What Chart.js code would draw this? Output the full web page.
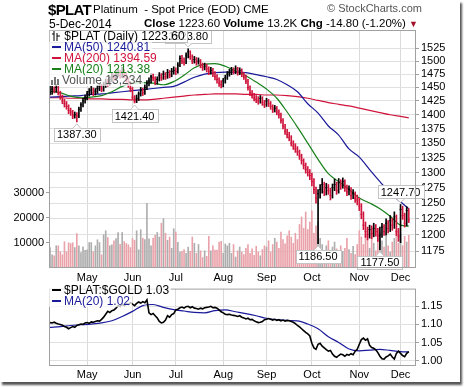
<!DOCTYPE html>
<html>
<head>
<meta charset="utf-8">
<script src="https://cdn.jsdelivr.net/npm/chart.js@4.4.1/dist/chart.umd.min.js"></script>
<style>
body { margin: 0; background: #fff; font-family: "Liberation Sans", Arial, sans-serif; }
#wrap { position: relative; width: 464px; height: 387px; overflow: hidden; }
#frame { position: absolute; left: 0; top: 0; width: 460px; height: 382px; background: #fff; box-shadow: 2px 3px 2px #555; }
canvas { position: absolute; left: 0; }
.t { position: absolute; white-space: nowrap; color: #000; }
.leg { position: absolute; white-space: nowrap; font-size: 12px; line-height: 11px; background: rgba(255,255,255,0.72); padding: 0 2px 0 2px; }
.dash { display: inline-block; width: 9px; height: 2px; vertical-align: middle; margin: 0 3px 2px 1px; }
</style>
</head>
<body>
<div id="wrap">
  <div id="frame"></div>
  <canvas id="main" width="464" height="285" style="top:0"></canvas>
  <canvas id="ratio" width="464" height="100" style="top:280px"></canvas>

  <div class="t" style="left:48px;top:1px;font-size:15px;font-weight:bold;letter-spacing:-0.7px">$PLAT</div>
  <div class="t" style="left:93px;top:3px;font-size:11.5px">Platinum&nbsp; - Spot Price (EOD) CME</div>
  <div class="t" style="left:327px;top:2px;font-size:11px;color:#555">&copy; StockCharts.com</div>
  <div class="t" style="left:49px;top:17px;font-size:12px">5-Dec-2014</div>
  <div class="t" style="right:46px;top:17px;font-size:11.5px"><b>Close</b> 1223.60 <b>Volume</b> 13.2K <b>Chg</b> -14.80 (-1.20%) <span style="color:#a0102a;font-size:9px">&#9660;</span></div>

  <div class="leg" style="left:49px;top:30px;border:1px solid #bbb;line-height:11px"><svg width="9" height="10" style="vertical-align:-1px"><path d="M2 0v10M0 3h2M5 2v8M5 5h3" stroke="#000" stroke-width="1"/></svg> $PLAT (Daily) 1223.60</div>
  <div class="leg" style="left:49px;top:42px;color:#1a1a9a"><span class="dash" style="background:#1a1a9a"></span>MA(50) 1240.81</div>
  <div class="leg" style="left:49px;top:53px;color:#d0143c"><span class="dash" style="background:#d0143c"></span>MA(200) 1394.59</div>
  <div class="leg" style="left:49px;top:64px;color:#17801a"><span class="dash" style="background:#17801a"></span>MA(20) 1213.38</div>
  <div class="leg" style="left:49px;top:75px;color:#555"><svg width="10" height="9" style="vertical-align:-1px;margin-right:1px"><path d="M1 9V4M4 9V1M7 9V3" stroke="#777" stroke-width="2"/></svg>Volume 13,234</div>

  <div class="leg" style="left:49px;top:285px;color:#000"><span class="dash" style="background:#000"></span>$PLAT:$GOLD 1.03</div>
  <div class="leg" style="left:49px;top:296px;color:#1a1a9a"><span class="dash" style="background:#1a1a9a"></span>MA(20) 1.02</div>
</div>

<script>
// daily bars, 7-Apr-2014 .. 5-Dec-2014 (weekdays)
const highs = [
  1452, 1452, 1451, 1456, 1452, 1443, 1436, 1428, 1424, 1418,
  1412, 1408, 1405, 1404, 1414, 1422, 1430, 1436, 1443, 1448,
  1452, 1449, 1448, 1454, 1458, 1456, 1460, 1466, 1465, 1470,
  1477, 1475, 1481, 1485, 1482, 1488, 1484, 1478, 1468, 1458,
  1450, 1435, 1436, 1442, 1450, 1449, 1455, 1463, 1468, 1476,
  1475, 1470, 1470, 1478, 1476, 1481, 1478, 1484, 1482, 1486,
  1489, 1487, 1497, 1510, 1511, 1506, 1516, 1523.8, 1520, 1512,
  1509, 1507, 1506, 1503, 1496, 1496, 1494, 1489, 1488, 1486,
  1480, 1474, 1468, 1463, 1467, 1473, 1480, 1484, 1488, 1487,
  1491, 1488, 1487, 1485, 1478, 1473, 1465, 1453, 1444, 1439,
  1435, 1433, 1435, 1433, 1426, 1430, 1428, 1424, 1418, 1417,
  1415, 1409, 1403, 1393, 1383, 1374, 1369, 1363, 1354, 1349,
  1344, 1338, 1331, 1323, 1316, 1310, 1305, 1299, 1290, 1276,
  1272, 1280, 1290, 1284, 1282, 1280, 1274, 1281, 1289, 1284,
  1290, 1288, 1291, 1288, 1279, 1278, 1275, 1272, 1268, 1263,
  1258, 1249, 1236, 1220, 1212, 1215, 1214, 1218, 1216, 1210,
  1212, 1218, 1216, 1225, 1222, 1230, 1226, 1236, 1231, 1210,
  1247.7, 1245, 1234, 1244, 1241
];
const lows = [
  1436, 1437, 1440, 1441, 1436, 1428, 1420, 1414, 1410, 1402,
  1399, 1393, 1394, 1387.3, 1395, 1406, 1414, 1421, 1427, 1434,
  1437, 1435, 1436, 1439, 1444, 1442, 1443, 1450, 1452, 1454,
  1461, 1463, 1464, 1470, 1467, 1468, 1468, 1460, 1450, 1442,
  1428, 1421.4, 1422, 1426, 1434, 1435, 1437, 1446, 1453, 1458,
  1462, 1455, 1456, 1462, 1463, 1465, 1465, 1467, 1468, 1470,
  1475, 1474, 1477, 1489, 1495, 1492, 1495, 1506, 1503, 1495,
  1496, 1492, 1494, 1487, 1482, 1483, 1479, 1474, 1475, 1470,
  1464, 1458, 1452, 1449, 1451, 1458, 1465, 1471, 1474, 1475,
  1476, 1473, 1474, 1470, 1465, 1457, 1445, 1435, 1430, 1425,
  1422, 1419, 1421, 1417, 1413, 1415, 1415, 1410, 1404, 1405,
  1400, 1394, 1385, 1375, 1365, 1359, 1354, 1345, 1339, 1334,
  1329, 1322, 1314, 1306, 1299, 1294, 1288, 1278, 1265, 1250,
  1186.5, 1258, 1266, 1262, 1263, 1264, 1255, 1258, 1270, 1264,
  1266, 1272, 1274, 1269, 1262, 1263, 1256, 1257, 1251, 1247,
  1238, 1225, 1208, 1196, 1192, 1195, 1194, 1197, 1198, 1190,
  1177.5, 1196, 1199, 1200, 1203, 1205, 1207, 1210, 1199, 1190,
  1188, 1224, 1212, 1214, 1219
];
const closes = [
  1440, 1447, 1445, 1450, 1440, 1432, 1425, 1420, 1415, 1408,
  1405, 1398, 1400, 1398, 1410, 1418, 1425, 1430, 1438, 1442,
  1445, 1440, 1443, 1448, 1452, 1447, 1455, 1460, 1458, 1465,
  1470, 1468, 1475, 1478, 1472, 1480, 1475, 1465, 1455, 1448,
  1432, 1425, 1430, 1438, 1445, 1440, 1450, 1458, 1462, 1470,
  1468, 1460, 1465, 1472, 1468, 1475, 1470, 1478, 1473, 1480,
  1482, 1480, 1492, 1505, 1500, 1498, 1510, 1518, 1508, 1500,
  1503, 1498, 1500, 1492, 1488, 1490, 1485, 1480, 1482, 1476,
  1470, 1465, 1458, 1455, 1462, 1468, 1475, 1478, 1482, 1480,
  1485, 1478, 1482, 1475, 1470, 1462, 1450, 1440, 1435, 1430,
  1428, 1425, 1430, 1422, 1418, 1425, 1420, 1415, 1410, 1412,
  1405, 1400, 1390, 1380, 1370, 1365, 1360, 1350, 1345, 1340,
  1335, 1328, 1320, 1312, 1305, 1300, 1295, 1285, 1272, 1258,
  1265, 1272, 1280, 1268, 1275, 1270, 1262, 1275, 1280, 1270,
  1283, 1278, 1285, 1275, 1268, 1272, 1262, 1265, 1258, 1255,
  1245, 1232, 1215, 1205, 1200, 1208, 1202, 1210, 1205, 1198,
  1200, 1212, 1205, 1218, 1210, 1222, 1215, 1228, 1205, 1198,
  1240, 1230, 1218, 1238, 1223.6
];
const volumes = [
  8300, 5400, 5000, 9000, 9000, 6600, 5400, 10600, 6600, 10200,
  9900, 10200, 8300, 13900, 9000, 6300, 8600, 7200, 7400, 10300,
  10300, 6600, 9000, 11400, 10300, 5400, 13400, 15000, 12300, 9000,
  9400, 11000, 11900, 14300, 9600, 14300, 10700, 9900, 9400, 8300,
  11900, 11200, 15000, 7400, 15400, 12000, 11500, 25900,
  11800, 9000, 12000, 13200, 14300, 12500, 18000, 19800, 14000, 11200, 12500, 8000, 15800, 14500, 10400,
  6500, 6800, 7500, 6000, 8500, 6800, 12500, 10000, 6000, 9500,
  7000, 4300, 7000, 4800, 12800, 7000, 9000, 7300, 7300, 10500,
  10800, 6000, 9700, 9000, 10000,
  6000, 9500, 4500, 7000, 8500, 6500, 5500, 8000, 9500, 6000,
  7800, 5200, 8800, 6500, 5000, 7500, 9000,
  8500, 11000, 6500, 9500, 12000, 10500, 8000, 14500, 11500, 9800,
  13000, 15000, 12500, 10000, 14000, 11500, 17500, 20500, 16000, 22500,
  15500, 18500,
  23000, 14000, 17000, 18500, 12000, 9500, 7000, 9000, 11000, 6500,
  8500, 10500, 7800, 5500, 9000, 6800, 8000, 12000, 7500, 6000,
  8800, 5500, 9500,
  15000, 12500, 9500, 13800, 11000, 8000, 15500, 10000, 7000, 12000,
  14500, 11000, 8500, 13500, 9000, 6500, 10500, 12000, 14800, 10000,
  13500, 9000, 12800, 10500, 13234
];

// moving averages every 5th bar
const maIdx = [0, 5, 10, 15, 20, 25, 30, 35, 40, 45, 50, 55, 60, 65, 70, 75, 80, 85, 90, 95,
  100, 105, 110, 115, 120, 125, 130, 135, 140, 145, 150, 155, 160, 165, 170, 174];
const ma50 = [1432, 1433, 1434, 1435, 1437, 1438, 1440, 1442, 1444, 1446, 1448, 1450, 1452, 1460, 1469, 1475, 1478, 1479, 1479, 1478,
  1474, 1470, 1465, 1455, 1442, 1420, 1403, 1380, 1364, 1340, 1326, 1305, 1285, 1266, 1252, 1240.81];
const ma200 = [1431, 1431, 1430, 1430, 1429, 1429, 1428, 1428, 1427, 1427, 1428, 1430, 1432, 1434, 1436, 1437, 1438, 1438, 1438, 1437,
  1437, 1436, 1436, 1435, 1433, 1430, 1426, 1422, 1419, 1416, 1412, 1408, 1404, 1400, 1397, 1394.59];
const ma20 = [1443, 1440, 1434, 1431, 1432, 1435, 1442, 1452, 1458, 1459, 1458, 1455, 1461, 1473, 1487, 1494, 1495, 1490, 1481, 1472,
  1460, 1447, 1430, 1405, 1378, 1350, 1322, 1298, 1285, 1272, 1258, 1250, 1241, 1229, 1215, 1213.38];

// $PLAT:$GOLD ratio
const ratio = [
  1.105, 1.104, 1.106, 1.103, 1.101, 1.100, 1.098, 1.094, 1.092, 1.088, 1.091, 1.094, 1.092, 1.097, 1.099, 1.101, 1.100, 1.104,
  1.105, 1.103, 1.107, 1.106, 1.108, 1.110, 1.109, 1.114, 1.120, 1.128, 1.136, 1.133, 1.138, 1.140, 1.145, 1.152, 1.150, 1.156, 1.152, 1.158, 1.155, 1.160,
  1.156, 1.152, 1.158, 1.162, 1.159, 1.163, 1.160, 1.168,
  1.132, 1.127, 1.130, 1.124, 1.118, 1.108, 1.104, 1.106, 1.112, 1.124, 1.120, 1.127, 1.130,
  1.140, 1.142, 1.146, 1.148, 1.145, 1.149, 1.150, 1.146, 1.149, 1.145, 1.144, 1.142, 1.145, 1.143, 1.146, 1.147, 1.148, 1.150, 1.146, 1.147, 1.145, 1.140, 1.135,
  1.132, 1.128, 1.127, 1.128, 1.126, 1.125, 1.124, 1.122, 1.124, 1.120, 1.118, 1.115, 1.117, 1.113, 1.114, 1.110, 1.107, 1.105, 1.106, 1.108, 1.113,
  1.114, 1.116, 1.114, 1.112, 1.114, 1.111, 1.113, 1.110, 1.112, 1.109, 1.111, 1.110, 1.108, 1.106, 1.102, 1.097, 1.093, 1.088, 1.083, 1.078, 1.074, 1.068,
  1.048, 1.035, 1.031, 1.045, 1.048, 1.040, 1.035, 1.030, 1.026, 1.028, 1.018, 1.012, 1.009, 1.014, 1.018, 1.016, 1.012, 1.017, 1.015, 1.019, 1.016, 1.026, 1.031,
  1.045, 1.058, 1.062, 1.056, 1.060, 1.042, 1.036, 1.034, 1.030, 1.022, 1.012, 1.005, 1.004, 1.010, 1.013, 1.018, 1.010, 1.004, 1.020, 1.026,
  1.020, 1.014, 1.011, 1.020, 1.025
];
const ratioMa = [1.092, 1.094, 1.097, 1.099, 1.101, 1.104, 1.110, 1.122, 1.136, 1.152, 1.155, 1.147, 1.141, 1.137, 1.133, 1.132, 1.138, 1.140, 1.135, 1.130,
  1.124, 1.117, 1.113, 1.111, 1.110, 1.101, 1.088, 1.066, 1.050, 1.032, 1.027, 1.029, 1.031, 1.028, 1.025, 1.024];

const priceTicks = [1175, 1200, 1225, 1250, 1275, 1300, 1325, 1350, 1375, 1400, 1425, 1450, 1475, 1500, 1525];
const volTicks = [10000, 20000, 30000];
const ratioTicks = [1.00, 1.05, 1.10, 1.15];
const monthNames = ['Jan', 'Feb', 'Mar', 'Apr', 'May', 'Jun', 'Jul', 'Aug', 'Sep', 'Oct', 'Nov', 'Dec'];

// price labels in boxes: [bar index, 'low' or 'high']
const notes = [[67, 'high'], [13, 'low'], [41, 'low'], [130, 'low'], [160, 'low'], [170, 'high']];

const N = closes.length;
const SLOTS = N + 3;

// trading days
const dates = [];
for (let d = new Date(2014, 3, 7); dates.length < N; d.setDate(d.getDate() + 1)) {
    if (d.getDay() !== 0 && d.getDay() !== 6) dates.push(new Date(d));
}
const labels = [];
for (let i = 0; i < SLOTS; i++) labels.push(i < N ? dates[i].toDateString() : 'pad' + i);

const monthAt = {};
for (let i = 1; i < N; i++) {
    if (dates[i].getMonth() !== dates[i - 1].getMonth()) monthAt[i] = monthNames[dates[i].getMonth()];
}

const RED = '#d0143c';
const up = closes.map((c, i) => i === 0 || c >= closes[i - 1]);
const barColors = up.map(u => u ? '#000000' : RED);
const volColors = up.map(u => u ? '#adadad' : '#eaa2aa');

function sparse(values) {
    const arr = new Array(SLOTS).fill(null);
    maIdx.forEach((ix, k) => { arr[ix] = values[k]; });
    return arr;
}

const frame = {
    id: 'frame',
    afterDraw(chart) {
        const a = chart.chartArea, c = chart.ctx;
        c.save();
        c.strokeStyle = '#a0a0a0';
        c.lineWidth = 1;
        c.strokeRect(a.left + 0.5, a.top + 0.5, a.right - a.left - 1, a.bottom - a.top - 1);
        c.restore();
    }
};

const boxes = {
    id: 'boxes',
    afterDatasetsDraw(chart) {
        const c = chart.ctx;
        const xs = chart.scales.x, ys = chart.scales.y;
        c.save();
        c.font = '11px "Liberation Sans", Arial, sans-serif';
        c.textAlign = 'center';
        c.textBaseline = 'middle';
        for (const [i, kind] of notes) {
            const v = kind === 'high' ? highs[i] : lows[i];
            const txt = v.toFixed(2);
            const px = xs.getPixelForValue(i);
            const py = ys.getPixelForValue(v);
            const w = c.measureText(txt).width + 6, h = 13;
            const top = kind === 'high' ? py - 6 - h : py + 6;
            const tipY = kind === 'high' ? py - 2 : py + 2;
            const baseY = kind === 'high' ? top + h : top;
            c.fillStyle = '#fff';
            c.strokeStyle = '#c4c4c4';
            c.lineWidth = 1;
            c.fillRect(Math.round(px - w / 2) + 0.5, Math.round(top) + 0.5, Math.round(w), h);
            c.strokeRect(Math.round(px - w / 2) + 0.5, Math.round(top) + 0.5, Math.round(w), h);
            c.beginPath();
            c.moveTo(px - 4, baseY + 0.5);
            c.lineTo(px, tipY);
            c.lineTo(px + 4, baseY + 0.5);
            c.fillStyle = '#fff';
            c.fill();
            c.stroke();
            c.fillStyle = '#000';
            c.fillText(txt, px, top + h / 2 + 1);
        }
        c.restore();
    }
};

const font11 = { family: '"Liberation Sans", Arial, sans-serif', size: 11 };

function monthAxis(height, pad) {
    return {
        type: 'category',
        offset: true,
        afterFit: s => { s.height = height; },
        border: { display: false },
        grid: {
            offset: false,
            drawTicks: false,
            color: c => (c.tick && monthAt[c.index]) ? '#dadada' : 'rgba(0,0,0,0)'
        },
        ticks: {
            autoSkip: false,
            maxRotation: 0,
            padding: pad,
            font: font11,
            color: '#000',
            callback: (v, i) => monthAt[i] || ''
        }
    };
}

new Chart(document.getElementById('main'), {
    data: {
        labels: labels,
        datasets: [
            {
                type: 'line', data: closes, yAxisID: 'y', order: 0,
                showLine: false, pointStyle: 'line', pointRadius: 1, pointBorderWidth: 1,
                pointBorderColor: barColors
            },
            {
                type: 'bar', data: closes.map((c, i) => [lows[i], highs[i]]), yAxisID: 'y', order: 1,
                grouped: false, barThickness: 1, backgroundColor: barColors
            },
            {
                type: 'line', data: sparse(ma20), yAxisID: 'y', order: 3, spanGaps: true,
                borderColor: '#17801a', borderWidth: 1.2, pointRadius: 0, cubicInterpolationMode: 'monotone'
            },
            {
                type: 'line', data: sparse(ma50), yAxisID: 'y', order: 4, spanGaps: true,
                borderColor: '#1a1a9a', borderWidth: 1.2, pointRadius: 0, cubicInterpolationMode: 'monotone'
            },
            {
                type: 'line', data: sparse(ma200), yAxisID: 'y', order: 5, spanGaps: true,
                borderColor: RED, borderWidth: 1.2, pointRadius: 0, cubicInterpolationMode: 'monotone'
            },
            {
                type: 'bar', data: volumes, yAxisID: 'vol', order: 10,
                grouped: false, barPercentage: 0.8, categoryPercentage: 1, backgroundColor: volColors
            }
        ]
    },
    options: {
        responsive: false,
        animation: false,
        layout: { padding: { top: 30, left: 0, right: 0, bottom: 0 } },
        plugins: { legend: { display: false }, tooltip: { enabled: false } },
        scales: {
            x: monthAxis(17, 3),
            y: {
                type: 'logarithmic',
                position: 'right',
                min: 1150,
                max: 1561,
                afterBuildTicks: s => { s.ticks = priceTicks.map(v => ({ value: v })); },
                afterFit: s => { s.width = 48; },
                border: { display: false },
                grid: { color: '#e0e0e0', tickLength: 3, tickColor: '#a0a0a0' },
                ticks: { font: font11, color: '#000', padding: 2, callback: v => String(v) }
            },
            vol: {
                type: 'linear',
                position: 'left',
                min: 0,
                max: 95000,
                afterBuildTicks: s => { s.ticks = volTicks.map(v => ({ value: v })); },
                afterFit: s => { s.width = 49; },
                border: { display: false },
                grid: { drawOnChartArea: false, tickLength: 3, tickColor: '#a0a0a0' },
                ticks: { font: font11, color: '#000', padding: 2, callback: v => String(v) }
            }
        }
    },
    plugins: [frame, boxes]
});

new Chart(document.getElementById('ratio'), {
    data: {
        labels: labels,
        datasets: [
            {
                type: 'line', data: ratio, order: 0,
                borderColor: '#000', borderWidth: 1.6, pointRadius: 0
            },
            {
                type: 'line', data: sparse(ratioMa), order: 1, spanGaps: true,
                borderColor: '#1a1a9a', borderWidth: 1.2, pointRadius: 0, cubicInterpolationMode: 'monotone'
            }
        ]
    },
    options: {
        responsive: false,
        animation: false,
        layout: { padding: { top: 4, left: 49, right: 0, bottom: 0 } },
        plugins: { legend: { display: false }, tooltip: { enabled: false } },
        scales: {
            x: monthAxis(14, 2),
            y: {
                type: 'linear',
                position: 'right',
                min: 0.985,
                max: 1.199,
                afterBuildTicks: s => { s.ticks = ratioTicks.map(v => ({ value: v })); },
                afterFit: s => { s.width = 48; },
                border: { display: false },
                grid: { color: '#e0e0e0', tickLength: 3, tickColor: '#a0a0a0' },
                ticks: { font: font11, color: '#000', padding: 2, callback: v => v.toFixed(2) }
            }
        }
    },
    plugins: [frame]
});
</script>
</body>
</html>
